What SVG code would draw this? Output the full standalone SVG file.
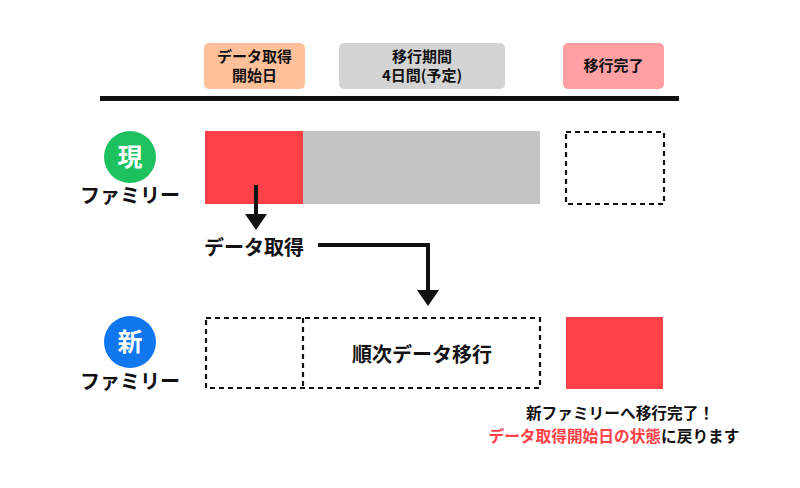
<svg xmlns="http://www.w3.org/2000/svg" width="800" height="488" viewBox="0 0 800 488">
<defs>
<style>
text{font-family:"Noto Sans CJK JP","Noto Sans",sans-serif;font-weight:bold;fill:#111;text-anchor:middle}
.h{font-size:15px}
.n{font-size:15.7px}
.f{font-size:20px}
.dash{fill:none;stroke:#111;stroke-width:2.2;stroke-dasharray:5 4}
.ln{fill:none;stroke:#111;stroke-width:4}
</style>
</defs>
<rect width="800" height="488" fill="#fff"/>
<g id="hdr-start"><rect x="204" y="43" width="101" height="46" rx="5" fill="#FFC09A"/><text class="h" x="254.5" y="62">データ取得</text><text class="h" x="254.5" y="81">開始日</text></g>
<g id="hdr-period"><rect x="339" y="43" width="166" height="46" rx="5" fill="#D4D4D4"/><text class="h" x="422" y="62">移行期間</text><text class="h" x="422" y="81">4日間(予定)</text></g>
<g id="hdr-done"><rect x="563" y="43" width="101" height="46" rx="5" fill="#FFA0A2"/><text class="h" x="613.5" y="71">移行完了</text></g>
<rect id="axis" x="100" y="96" width="579" height="5" fill="#111"/>
<g id="cur-label"><circle cx="130" cy="157" r="26" fill="#1EC160"/><text x="130" y="166" style="font-size:25px;fill:#fff">現</text><text class="f" x="130" y="203">ファミリー</text></g>
<g id="cur-red"><rect x="205" y="131" width="98" height="73" fill="#FF4046"/></g>
<g id="cur-gray"><rect x="303" y="131" width="237" height="73" fill="#C4C4C4"/></g>
<g id="cur-empty"><rect x="566" y="132" width="98" height="72" class="dash"/></g>
<g id="acq"><text class="f" x="254" y="255">データ取得</text></g>
<g id="new-label"><circle cx="130" cy="342" r="26" fill="#1177EF"/><text x="130" y="351" style="font-size:25px;fill:#fff">新</text><text class="f" x="130" y="389">ファミリー</text></g>
<g id="new-migrate"><rect x="206" y="318" width="334" height="70" class="dash"/><line x1="303" y1="318" x2="303" y2="388" class="dash"/><text class="f" x="422" y="362">順次データ移行</text></g>
<g id="new-red"><rect x="566" y="317" width="97" height="72" fill="#FF4046"/></g>
<g id="note"><text class="n" x="620" y="419">新ファミリーへ移行完了！</text><text class="n" x="614" y="442"><tspan style="fill:#FF4046">データ取得開始日の状態</tspan>に戻ります</text></g>
<g id="connectors">
<path class="ln" d="M256 185V216"/><polygon points="245,214 267,214 256,230" fill="#111"/>
<path class="ln" d="M318 245H428V292"/><polygon points="417,290 439,290 428,306" fill="#111"/>
</g>
</svg>
